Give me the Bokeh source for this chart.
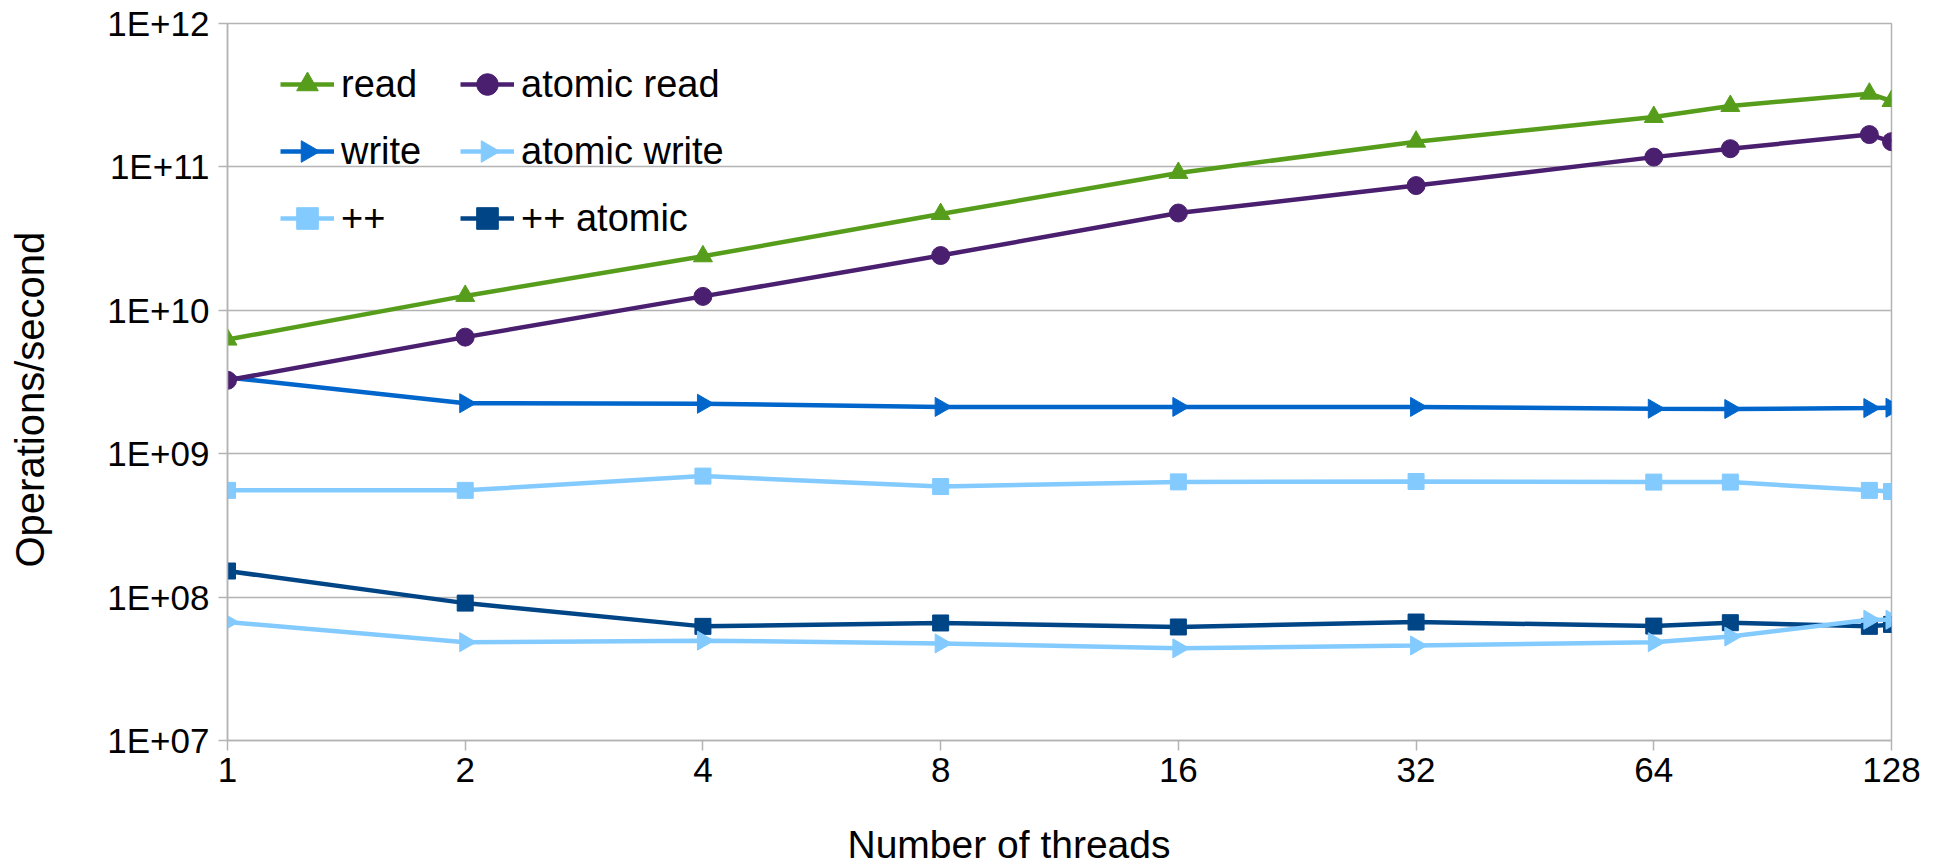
import numpy as np
from bokeh.plotting import figure
from bokeh.models import (FixedTicker, Legend, LegendItem, ColumnDataSource, Title,
                          Range1d, LinearScale)
from bokeh.embed import file_html
from bokeh.resources import INLINE

# ---- data ----
threads = [1, 2, 4, 8, 16, 32, 64, 80, 120, 128]
read = [6.25e9, 1.26e10, 2.38e10, 4.69e10, 9.08e10, 1.50e11, 2.23e11, 2.66e11, 3.24e11, 2.88e11]
atomic_read = [3.25e9, 6.5e9, 1.25e10, 2.41e10, 4.77e10, 7.41e10, 1.17e11, 1.34e11, 1.68e11, 1.50e11]
write = [3.4e9, 2.25e9, 2.23e9, 2.12e9, 2.12e9, 2.12e9, 2.06e9, 2.05e9, 2.08e9, 2.09e9]
atomic_write = [6.7e7, 4.85e7, 4.97e7, 4.75e7, 4.39e7, 4.6e7, 4.85e7, 5.31e7, 6.95e7, 6.95e7]
plusplus = [5.55e8, 5.55e8, 6.98e8, 5.9e8, 6.36e8, 6.4e8, 6.34e8, 6.34e8, 5.55e8, 5.45e8]
plusplus_atomic = [1.52e8, 9.08e7, 6.25e7, 6.6e7, 6.19e7, 6.7e7, 6.28e7, 6.63e7, 6.25e7, 6.45e7]

x_ticks = [1, 2, 4, 8, 16, 32, 64, 128]
x_tick_labels = ["1", "2", "4", "8", "16", "32", "64", "128"]
y_ticks = [10**7, 10**8, 10**9, 10**10, 10**11, 10**12]
y_tick_labels = ["1E+07", "1E+08", "1E+09", "1E+10", "1E+11", "1E+12"]

x_title = "Number of threads"
y_title = "Operations/second"

FONT = "Liberation Sans"
GRID = "#b3b3b3"

W, H = 1930, 866
BL, BR, BT, BB = 227, W - 1891, 23, 126
FW, FH = W - BL - BR, H - BT - BB

p = figure(width=W, height=H, x_axis_type="log", y_axis_type="log",
           x_range=(1, 128), y_range=(1e7, 1e12),
           output_backend="svg", toolbar_location=None,
           min_border_left=BL, min_border_right=BR, min_border_top=BT, min_border_bottom=BB)
p.background_fill_color = "white"
p.border_fill_color = "white"
p.outline_line_color = GRID
p.outline_line_width = 1.5

# pixel-space helper range (used only for the legend's rotated markers)
p.extra_x_ranges = {"px": Range1d(0, FW)}
p.extra_y_ranges = {"py": Range1d(0, FH)}
p.extra_x_scales = {"px": LinearScale()}
p.extra_y_scales = {"py": LinearScale()}

p.xgrid.grid_line_color = None
p.ygrid.grid_line_color = GRID
p.ygrid.grid_line_width = 1.5
p.ygrid.minor_grid_line_color = None

p.xaxis.ticker = FixedTicker(ticks=x_ticks, minor_ticks=[])
p.xaxis.major_label_overrides = {t: l for t, l in zip(x_ticks, x_tick_labels)}
p.yaxis.ticker = FixedTicker(ticks=y_ticks, minor_ticks=[])
p.yaxis.major_label_overrides = {t: l for t, l in zip(y_ticks, y_tick_labels)}

for ax in (p.xaxis, p.yaxis):
    ax.axis_line_color = GRID
    ax.axis_line_width = 1.5
    ax.major_tick_line_color = GRID
    ax.major_tick_line_width = 1.5
    ax.major_tick_in = 0
    ax.minor_tick_line_color = None
    ax.major_label_text_font = FONT
    ax.major_label_text_font_size = "35px"
    ax.major_label_text_color = "black"
    # blank spacer label: only reserves room between tick labels and the side title
    ax.axis_label = " "
    ax.axis_label_text_font_size = "1px"

p.xaxis.major_tick_out = 10
p.xaxis.major_label_standoff = 7
p.xaxis.axis_label_standoff = 32
p.yaxis.major_tick_out = 9
p.yaxis.major_label_standoff = 9
p.yaxis.axis_label_standoff = 49

# axis titles as side titles (off-centre placement like the reference)
p.add_layout(Title(text=x_title, align="left", offset=620, standoff=0,
                   text_font=FONT, text_font_size="39px", text_font_style="normal",
                   text_color="black"), "below")
p.add_layout(Title(text=y_title, align="left", offset=173, standoff=0,
                   text_font=FONT, text_font_size="40px", text_font_style="normal",
                   text_color="black"), "left")

src = ColumnDataSource(dict(x=threads, read=read, atomic_read=atomic_read, write=write,
                            atomic_write=atomic_write, pp=plusplus, ppa=plusplus_atomic))

LW = 4.5
RIGHT = -np.pi / 2

def series(col, color, marker, size, angle=0.0):
    ln = p.line("x", col, source=src, line_color=color, line_width=LW)
    sc = p.scatter("x", col, source=src, marker=marker, size=size, angle=angle,
                   fill_color=color, line_color=color)
    return ln, sc

l_read, s_read = series("read", "#579d1c", "triangle", 19)
l_write, s_write = series("write", "#0066cc", "triangle", 19, RIGHT)
l_pp, s_pp = series("pp", "#83caff", "square", 16)
l_ppa, s_ppa = series("ppa", "#004586", "square", 16)
l_aread, s_aread = series("atomic_read", "#4b1f6f", "circle", 18)
l_awrite, s_awrite = series("atomic_write", "#83caff", "triangle", 19, RIGHT)

# ---- legend ----
GW, GH, SP = 54, 56, 11
LX1, LX2, LY = 53, 233, 494
common = dict(orientation="vertical", glyph_width=GW, glyph_height=GH, label_standoff=7,
              spacing=SP, padding=0, margin=0, border_line_color=None,
              background_fill_alpha=0, label_text_font=FONT, label_text_font_size="38px",
              label_text_color="black")

leg1 = Legend(items=[LegendItem(label="read", renderers=[l_read, s_read]),
                     LegendItem(label="write", renderers=[l_write]),
                     LegendItem(label="++", renderers=[l_pp, s_pp])],
              location=(LX1, LY), **common)
leg2 = Legend(items=[LegendItem(label="atomic read", renderers=[l_aread, s_aread]),
                     LegendItem(label="atomic write", renderers=[l_awrite]),
                     LegendItem(label="++ atomic", renderers=[l_ppa, s_ppa])],
              location=(LX2, LY), **common)
p.add_layout(leg1)
p.add_layout(leg2)

# right-pointing triangle markers for the "write" legend rows
row_y = LY + (GH + SP) + GH / 2
msize = 0.4 * min(GW, GH)
p.scatter(x=[LX1 + GW / 2], y=[row_y], x_range_name="px", y_range_name="py",
          marker="triangle", angle=RIGHT, size=msize,
          fill_color="#0066cc", line_color="#0066cc", level="overlay")
p.scatter(x=[LX2 + GW / 2], y=[row_y], x_range_name="px", y_range_name="py",
          marker="triangle", angle=RIGHT, size=msize,
          fill_color="#83caff", line_color="#83caff", level="overlay")

open("out.html", "w").write(file_html(p, INLINE))
